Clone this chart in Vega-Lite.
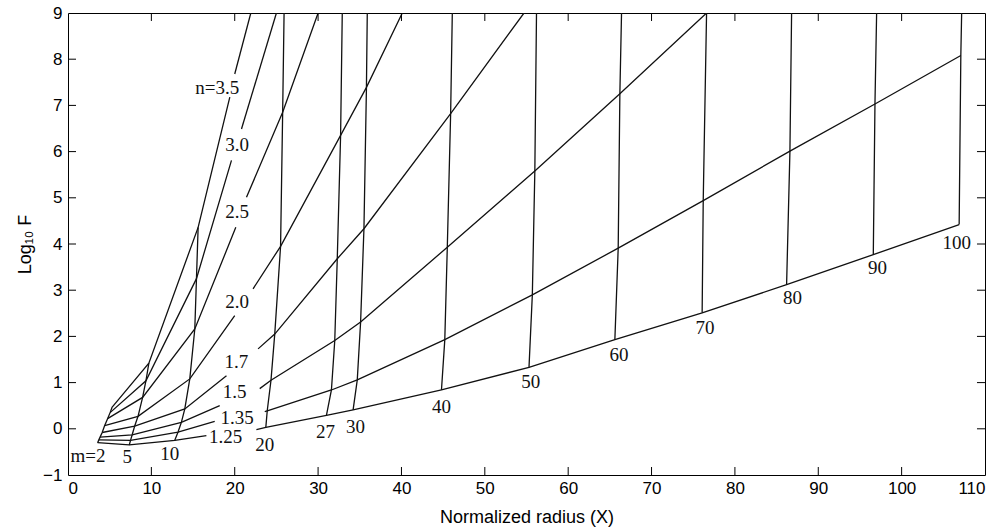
{
 "$schema": "https://vega.github.io/schema/vega-lite/v6.json",
 "width": 917,
 "height": 462,
 "autosize": {"type": "none"},
 "padding": {"left": 68, "top": 13, "right": 15, "bottom": 55},
 "config": {
  "view": {"stroke": "black", "strokeWidth": 1},
  "axis": {"grid": false, "domain": false, "ticks": false, "labelColor": "black", "titleColor": "black",
           "labelFont": "Liberation Sans", "labelFontSize": 17, "titleFont": "Liberation Sans", "titleFontSize": 18,
           "titleFontWeight": "normal"}
 },
 "datasets": {
  "xt": [{"v":10},{"v":20},{"v":30},{"v":40},{"v":50},{"v":60},{"v":70},{"v":80},{"v":90},{"v":100}],
  "yt": [{"v":0},{"v":1},{"v":2},{"v":3},{"v":4},{"v":5},{"v":6},{"v":7},{"v":8}],
  "lines": [
   {"g":"n125a","o":1,"x":3.55,"y":-0.3},{"g":"n125a","o":2,"x":7.35,"y":-0.35},{"g":"n125a","o":3,"x":12.81,"y":-0.25},{"g":"n125a","o":4,"x":16.6,"y":-0.15},
   {"g":"n125b","o":1,"x":22.6,"y":-0.02},{"g":"n125b","o":2,"x":23.73,"y":0.03},{"g":"n125b","o":3,"x":31.0,"y":0.29},{"g":"n125b","o":4,"x":34.2,"y":0.41},{"g":"n125b","o":5,"x":44.8,"y":0.84},{"g":"n125b","o":6,"x":55.3,"y":1.33},{"g":"n125b","o":7,"x":65.6,"y":1.93},{"g":"n125b","o":8,"x":76.07,"y":2.51},{"g":"n125b","o":9,"x":86.2,"y":3.12},{"g":"n125b","o":10,"x":96.6,"y":3.77},{"g":"n125b","o":11,"x":106.9,"y":4.42},
   {"g":"n135a","o":1,"x":3.7,"y":-0.24},{"g":"n135a","o":2,"x":7.5,"y":-0.25},{"g":"n135a","o":3,"x":13.2,"y":-0.07},{"g":"n135a","o":4,"x":17.6,"y":0.16},
   {"g":"n135b","o":1,"x":23.6,"y":0.37},{"g":"n135b","o":2,"x":23.9,"y":0.39},{"g":"n135b","o":3,"x":31.6,"y":0.84},{"g":"n135b","o":4,"x":34.7,"y":1.06},{"g":"n135b","o":5,"x":45.2,"y":1.93},{"g":"n135b","o":6,"x":55.7,"y":2.9},{"g":"n135b","o":7,"x":66.0,"y":3.91},{"g":"n135b","o":8,"x":76.2,"y":4.94},{"g":"n135b","o":9,"x":86.6,"y":6.01},{"g":"n135b","o":10,"x":96.8,"y":7.03},{"g":"n135b","o":11,"x":107.1,"y":8.08},
   {"g":"n15a","o":1,"x":3.85,"y":-0.18},{"g":"n15a","o":2,"x":7.7,"y":-0.13},{"g":"n15a","o":3,"x":13.6,"y":0.14},{"g":"n15a","o":4,"x":18.2,"y":0.5},
   {"g":"n15b","o":1,"x":23.0,"y":0.87},{"g":"n15b","o":2,"x":24.35,"y":1.05},{"g":"n15b","o":3,"x":32.0,"y":1.91},{"g":"n15b","o":4,"x":35.1,"y":2.31},{"g":"n15b","o":5,"x":45.5,"y":3.93},{"g":"n15b","o":6,"x":56.0,"y":5.58},{"g":"n15b","o":7,"x":66.2,"y":7.25},{"g":"n15b","o":8,"x":76.6,"y":9.0},
   {"g":"n17a","o":1,"x":4.1,"y":-0.08},{"g":"n17a","o":2,"x":8.0,"y":0.06},{"g":"n17a","o":3,"x":14.01,"y":0.43},{"g":"n17a","o":4,"x":19.01,"y":1.15},
   {"g":"n17b","o":1,"x":22.8,"y":1.73},{"g":"n17b","o":2,"x":24.8,"y":2.05},{"g":"n17b","o":3,"x":32.3,"y":3.68},{"g":"n17b","o":4,"x":35.5,"y":4.33},{"g":"n17b","o":5,"x":45.9,"y":6.82},{"g":"n17b","o":6,"x":54.7,"y":9.0},
   {"g":"n20a","o":1,"x":4.4,"y":0.07},{"g":"n20a","o":2,"x":8.4,"y":0.27},{"g":"n20a","o":3,"x":14.61,"y":1.08},{"g":"n20a","o":4,"x":20.0,"y":2.45},
   {"g":"n20b","o":1,"x":22.2,"y":3.03},{"g":"n20b","o":2,"x":25.5,"y":3.95},{"g":"n20b","o":3,"x":32.7,"y":6.35},{"g":"n20b","o":4,"x":35.8,"y":7.39},{"g":"n20b","o":5,"x":40.1,"y":9.0},
   {"g":"n25a","o":1,"x":4.75,"y":0.22},{"g":"n25a","o":2,"x":8.95,"y":0.68},{"g":"n25a","o":3,"x":15.21,"y":2.16},{"g":"n25a","o":4,"x":20.13,"y":4.36},
   {"g":"n25b","o":1,"x":21.41,"y":5.01},{"g":"n25b","o":2,"x":25.75,"y":6.85},{"g":"n25b","o":3,"x":30.0,"y":9.0},
   {"g":"n30a","o":1,"x":5.05,"y":0.35},{"g":"n30a","o":2,"x":9.35,"y":1.04},{"g":"n30a","o":3,"x":15.41,"y":3.25},{"g":"n30a","o":4,"x":19.61,"y":5.81},
   {"g":"n30b","o":1,"x":20.81,"y":6.49},{"g":"n30b","o":2,"x":25.0,"y":9.0},
   {"g":"n35a","o":1,"x":5.3,"y":0.47},{"g":"n35a","o":2,"x":9.7,"y":1.42},{"g":"n35a","o":3,"x":15.61,"y":4.36},{"g":"n35a","o":4,"x":19.41,"y":7.18},
   {"g":"n35b","o":1,"x":20.0,"y":7.68},{"g":"n35b","o":2,"x":21.93,"y":9.0},
   {"g":"m2","o":1,"x":3.55,"y":-0.3},{"g":"m2","o":2,"x":3.7,"y":-0.24},{"g":"m2","o":3,"x":3.85,"y":-0.18},{"g":"m2","o":4,"x":4.1,"y":-0.08},{"g":"m2","o":5,"x":4.4,"y":0.07},{"g":"m2","o":6,"x":4.75,"y":0.22},{"g":"m2","o":7,"x":5.05,"y":0.35},{"g":"m2","o":8,"x":5.3,"y":0.47},
   {"g":"m5","o":1,"x":7.35,"y":-0.35},{"g":"m5","o":2,"x":7.5,"y":-0.25},{"g":"m5","o":3,"x":7.7,"y":-0.13},{"g":"m5","o":4,"x":8.0,"y":0.06},{"g":"m5","o":5,"x":8.4,"y":0.27},{"g":"m5","o":6,"x":8.95,"y":0.68},{"g":"m5","o":7,"x":9.35,"y":1.04},{"g":"m5","o":8,"x":9.7,"y":1.42},
   {"g":"m10","o":1,"x":12.81,"y":-0.25},{"g":"m10","o":2,"x":13.2,"y":-0.07},{"g":"m10","o":3,"x":13.6,"y":0.14},{"g":"m10","o":4,"x":14.01,"y":0.43},{"g":"m10","o":5,"x":14.61,"y":1.08},{"g":"m10","o":6,"x":15.21,"y":2.16},{"g":"m10","o":7,"x":15.41,"y":3.25},{"g":"m10","o":8,"x":15.61,"y":4.36},
   {"g":"m20","o":1,"x":23.73,"y":0.03},{"g":"m20","o":2,"x":23.9,"y":0.39},{"g":"m20","o":3,"x":24.35,"y":1.05},{"g":"m20","o":4,"x":24.8,"y":2.05},{"g":"m20","o":5,"x":25.5,"y":3.95},{"g":"m20","o":6,"x":25.75,"y":6.85},{"g":"m20","o":7,"x":25.92,"y":9.0},
   {"g":"m27","o":1,"x":31.0,"y":0.29},{"g":"m27","o":2,"x":31.6,"y":0.84},{"g":"m27","o":3,"x":32.0,"y":1.91},{"g":"m27","o":4,"x":32.3,"y":3.68},{"g":"m27","o":5,"x":32.7,"y":6.35},{"g":"m27","o":6,"x":32.9,"y":9.0},
   {"g":"m30","o":1,"x":34.2,"y":0.41},{"g":"m30","o":2,"x":34.7,"y":1.06},{"g":"m30","o":3,"x":35.1,"y":2.31},{"g":"m30","o":4,"x":35.5,"y":4.33},{"g":"m30","o":5,"x":35.8,"y":7.39},{"g":"m30","o":6,"x":35.9,"y":9.0},
   {"g":"m40","o":1,"x":44.8,"y":0.84},{"g":"m40","o":2,"x":45.2,"y":1.93},{"g":"m40","o":3,"x":45.5,"y":3.93},{"g":"m40","o":4,"x":45.9,"y":6.82},{"g":"m40","o":5,"x":46.1,"y":9.0},
   {"g":"m50","o":1,"x":55.3,"y":1.33},{"g":"m50","o":2,"x":55.7,"y":2.9},{"g":"m50","o":3,"x":56.0,"y":5.58},{"g":"m50","o":4,"x":56.2,"y":9.0},
   {"g":"m60","o":1,"x":65.6,"y":1.93},{"g":"m60","o":2,"x":66.0,"y":3.91},{"g":"m60","o":3,"x":66.2,"y":7.25},{"g":"m60","o":4,"x":66.4,"y":9.0},
   {"g":"m70","o":1,"x":76.07,"y":2.51},{"g":"m70","o":2,"x":76.2,"y":4.94},{"g":"m70","o":3,"x":76.6,"y":9.0},
   {"g":"m80","o":1,"x":86.2,"y":3.12},{"g":"m80","o":2,"x":86.6,"y":6.01},{"g":"m80","o":3,"x":86.8,"y":9.0},
   {"g":"m90","o":1,"x":96.6,"y":3.77},{"g":"m90","o":2,"x":96.8,"y":7.03},{"g":"m90","o":3,"x":97.0,"y":9.0},
   {"g":"m100","o":1,"x":106.9,"y":4.42},{"g":"m100","o":2,"x":107.1,"y":8.08},{"g":"m100","o":3,"x":107.2,"y":9.0}
  ],
  "labels": [
   {"t":"n=3.5","x":17.9,"y":7.37},
   {"t":"3.0","x":20.3,"y":6.15},
   {"t":"2.5","x":20.3,"y":4.69},
   {"t":"2.0","x":20.3,"y":2.74},
   {"t":"1.7","x":20.2,"y":1.44},
   {"t":"1.5","x":20.0,"y":0.79},
   {"t":"1.35","x":20.3,"y":0.24},
   {"t":"1.25","x":18.9,"y":-0.17},
   {"t":"m=2","x":2.4,"y":-0.58},
   {"t":"5","x":7.1,"y":-0.62},
   {"t":"10","x":12.2,"y":-0.55},
   {"t":"20","x":23.6,"y":-0.36},
   {"t":"27","x":30.9,"y":-0.07},
   {"t":"30","x":34.5,"y":0.03},
   {"t":"40","x":44.8,"y":0.48},
   {"t":"50","x":55.5,"y":1.01},
   {"t":"60","x":66.1,"y":1.59},
   {"t":"70","x":76.4,"y":2.19},
   {"t":"80","x":86.9,"y":2.84},
   {"t":"90","x":97.1,"y":3.48},
   {"t":"100","x":106.6,"y":4.03}
  ]
 },
 "layer": [
  {
   "data": {"name": "lines"},
   "mark": {"type": "line", "stroke": "#111111", "strokeWidth": 1.3, "clip": true},
   "encoding": {
    "x": {"field": "x", "type": "quantitative", "scale": {"domain": [0, 110], "nice": false, "zero": false},
          "axis": {"orient": "bottom", "values": [0,10,20,30,40,50,60,70,80,90,100,110], "title": "Normalized radius (X)", "titlePadding": 12, "labelPadding": 5}},
    "y": {"field": "y", "type": "quantitative", "scale": {"domain": [-1, 9], "nice": false, "zero": false},
          "axis": {"orient": "left", "values": [-1,0,1,2,3,4,5,6,7,8,9], "title": "Log₁₀ F", "titlePadding": 8, "labelPadding": 6}},
    "detail": {"field": "g"},
    "order": {"field": "o", "type": "quantitative"}
   }
  },
  {
   "data": {"name": "xt"},
   "mark": {"type": "rule", "color": "black", "strokeWidth": 1},
   "encoding": {
    "x": {"field": "v", "type": "quantitative", "axis": null},
    "y": {"datum": -1, "axis": null},
    "y2": {"datum": -0.827}
   }
  },
  {
   "data": {"name": "xt"},
   "mark": {"type": "rule", "color": "black", "strokeWidth": 1},
   "encoding": {
    "x": {"field": "v", "type": "quantitative", "axis": null},
    "y": {"datum": 9, "axis": null},
    "y2": {"datum": 8.827}
   }
  },
  {
   "data": {"name": "yt"},
   "mark": {"type": "rule", "color": "black", "strokeWidth": 1},
   "encoding": {
    "y": {"field": "v", "type": "quantitative", "axis": null},
    "x": {"datum": 0, "axis": null},
    "x2": {"datum": 0.96}
   }
  },
  {
   "data": {"name": "yt"},
   "mark": {"type": "rule", "color": "black", "strokeWidth": 1},
   "encoding": {
    "y": {"field": "v", "type": "quantitative", "axis": null},
    "x": {"datum": 110, "axis": null},
    "x2": {"datum": 109.04}
   }
  },
  {
   "data": {"name": "labels"},
   "mark": {"type": "text", "font": "Liberation Serif", "fontSize": 19, "color": "#111111", "align": "center", "baseline": "middle"},
   "encoding": {
    "x": {"field": "x", "type": "quantitative", "axis": null},
    "y": {"field": "y", "type": "quantitative", "axis": null},
    "text": {"field": "t"}
   }
  }
 ],
 "resolve": {"axis": {"x": "independent", "y": "independent"}}
}
